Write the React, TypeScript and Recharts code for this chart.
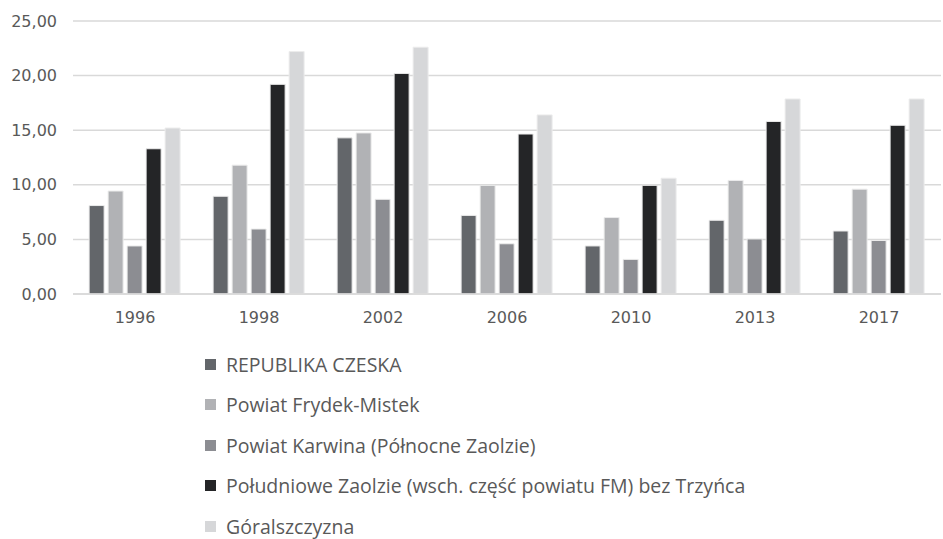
import React from "react";
import { BarChart, Bar, XAxis, YAxis, CartesianGrid, Legend } from "recharts";

const years = ["1996", "1998", "2002", "2006", "2010", "2013", "2017"];
const republikaCzeska = [8.1, 8.95, 14.3, 7.2, 4.4, 6.75, 5.77];
const powiatFrydekMistek = [9.43, 11.8, 14.75, 9.95, 7.0, 10.4, 9.6];
const powiatKarwina = [4.4, 5.95, 8.67, 4.6, 3.17, 5.04, 4.9];
const poludnioweZaolzie = [13.3, 19.2, 20.2, 14.65, 9.95, 15.8, 15.45];
const goralszczyzna = [15.2, 22.2, 22.6, 16.4, 10.6, 17.86, 17.86];
const yTicks = [0, 5, 10, 15, 20, 25];

const seriesNames = [
  "REPUBLIKA CZESKA",
  "Powiat Frydek-Mistek",
  "Powiat Karwina (Północne Zaolzie)",
  "Południowe Zaolzie (wsch. część powiatu FM) bez Trzyńca",
  "Góralszczyzna",
];
const seriesColors = ["#63666a", "#b1b2b5", "#8c8d92", "#242527", "#d6d7d9"];

const data = years.map((y, i) => ({
  year: y,
  s0: republikaCzeska[i],
  s1: powiatFrydekMistek[i],
  s2: powiatKarwina[i],
  s3: poludnioweZaolzie[i],
  s4: goralszczyzna[i],
}));

const fmt = (v: number) => v.toFixed(2).replace(".", ",");

const LegendContent = () => (
  <div style={{ fontFamily: "'Open Sans', sans-serif", fontSize: 19.5, color: "#595959", whiteSpace: "nowrap" }}>
    {seriesNames.map((n, i) => (
      <div key={n} style={{ display: "flex", alignItems: "center", height: 40.5 }}>
        <span style={{ display: "inline-block", width: 11, height: 11, background: seriesColors[i], marginRight: 10 }} />
        <span>{n}</span>
      </div>
    ))}
  </div>
);

export default function App() {
  return (
    <div style={{ position: "absolute", left: 0, top: 0, width: 943, height: 539, background: "#fff" }}>
      <BarChart
        width={943}
        height={539}
        data={data}
        margin={{ top: 21, right: 2, left: 0, bottom: 215 }}
        barGap={4}
        barCategoryGap="13%"
      >
        <CartesianGrid vertical={false} stroke="#d9d9d9" strokeWidth={1.5} />
        <XAxis
          dataKey="year"
          height={30}
          axisLine={{ stroke: "#d9d9d9", strokeWidth: 1.5 }}
          tickLine={false}
          tickSize={0}
          tickMargin={18}
          tick={{ fill: "#595959", fontSize: 16, fontFamily: "'DejaVu Sans', sans-serif" }}
        />
        <YAxis
          width={73}
          domain={[0, 25]}
          ticks={yTicks}
          tickFormatter={fmt}
          axisLine={false}
          tickLine={false}
          tickSize={0}
          tickMargin={16}
          tick={{ fill: "#595959", fontSize: 16, fontFamily: "'DejaVu Sans', sans-serif" }}
        />
        <Legend
          layout="vertical"
          align="center"
          verticalAlign="middle"
          content={<LegendContent />}
          wrapperStyle={{ position: "absolute", left: 205, top: 344, width: 720, height: 205 }}
        />
        {["s0", "s1", "s2", "s3", "s4"].map((k, i) => (
          <Bar
            key={k}
            dataKey={k}
            name={seriesNames[i]}
            fill={seriesColors[i]}
            stroke="#ececec"
            strokeWidth={1}
            isAnimationActive={false}
          />
        ))}
      </BarChart>
    </div>
  );
}
